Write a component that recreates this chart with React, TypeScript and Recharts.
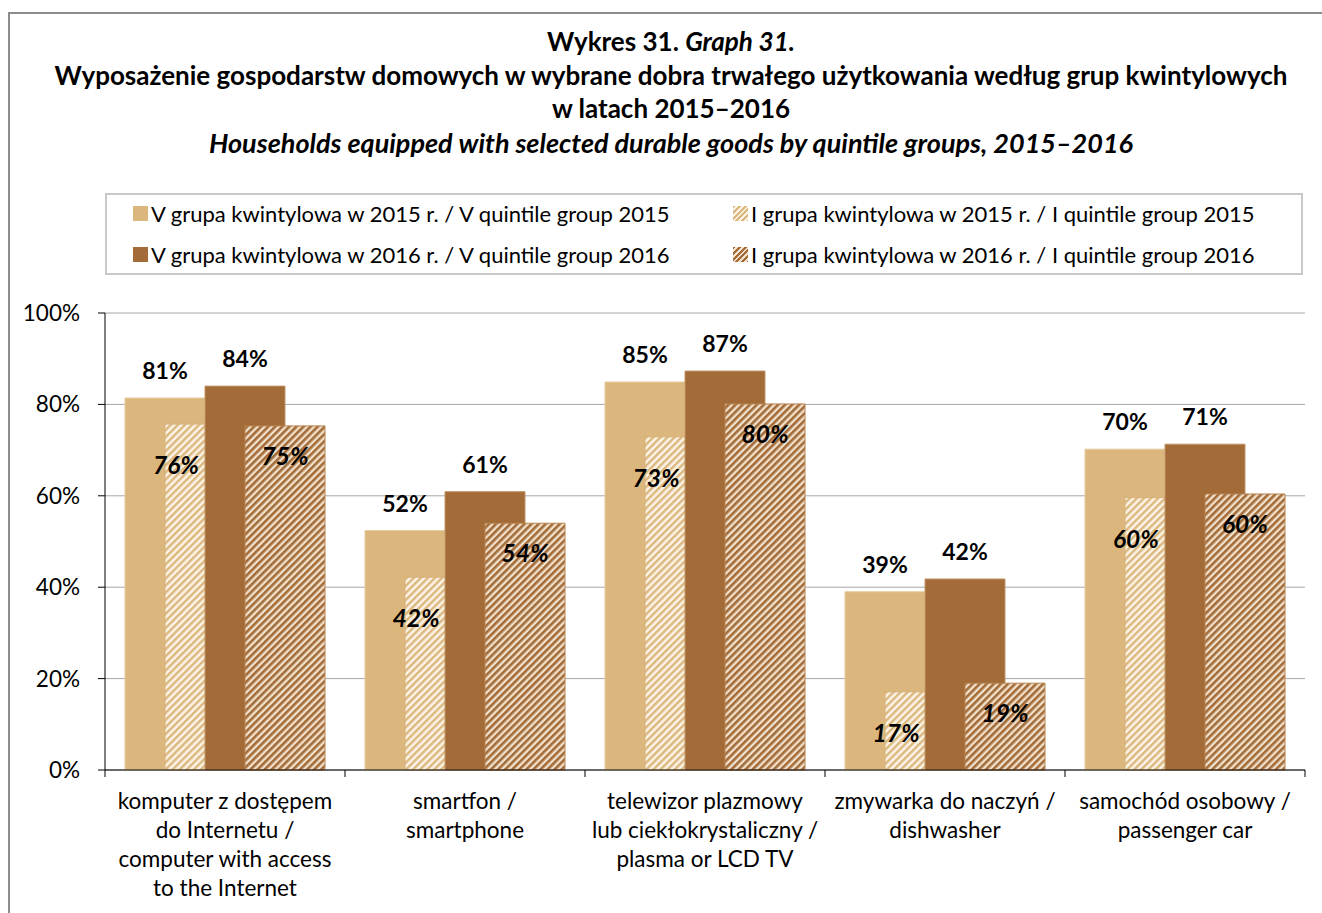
import { BarChart, Bar, XAxis, YAxis, CartesianGrid, Legend, LabelList } from 'recharts';

const categories = ['computer', 'smartphone', 'tv', 'dishwasher', 'car'];
const categoryLabels = [
  ['komputer z dostępem', 'do Internetu /', 'computer with access', 'to the Internet'],
  ['smartfon /', 'smartphone'],
  ['telewizor plazmowy', 'lub ciekłokrystaliczny /', 'plasma or LCD TV'],
  ['zmywarka do naczyń /', 'dishwasher'],
  ['samochód osobowy /', 'passenger car'],
];
const quintileV2015 = [81.4, 52.4, 84.9, 39.0, 70.2];
const quintileI2015 = [75.7, 42.2, 72.9, 17.1, 59.6];
const quintileV2016 = [84.0, 60.9, 87.3, 41.8, 71.3];
const quintileI2016 = [75.3, 54.0, 80.1, 19.0, 60.4];
const yTicks = [0, 20, 40, 60, 80, 100];
const seriesNames = [
  'V grupa kwintylowa w 2015 r. / V quintile group 2015',
  'I grupa kwintylowa w 2015 r. / I quintile group 2015',
  'V grupa kwintylowa w 2016 r. / V quintile group 2016',
  'I grupa kwintylowa w 2016 r. / I quintile group 2016',
];
const titleLines = [
  'Wyposażenie gospodarstw domowych w wybrane dobra trwałego użytkowania według grup kwintylowych',
  'w latach 2015–2016',
];
const subtitle = 'Households equipped with selected durable goods by quintile groups, 2015–2016';

const data = categories.map((c, i) => ({
  category: c,
  v2015: quintileV2015[i],
  i2015: quintileI2015[i],
  v2016: quintileV2016[i],
  i2016: quintileI2016[i],
}));

const FONT = "Lato, 'Open Sans', sans-serif";
const W = 1322;
const H = 913;
const PLOT_LEFT = 105;
const PLOT_RIGHT = 1305;
const PLOT_TOP = 313;
const PLOT_BOTTOM = 770;
const BAND = (PLOT_RIGHT - PLOT_LEFT) / categories.length;

const LIGHT = '#dbb77d';
const DARK = '#a26b37';

// swatches for the legend (css stand-ins for the svg patterns)
const swatches = [
  LIGHT,
  `repeating-linear-gradient(135deg, ${LIGHT} 0 2px, #fbf3e6 2px 4px)`,
  DARK,
  `repeating-linear-gradient(135deg, ${DARK} 0 2px, #f0e0cc 2px 4px)`,
];

function LegendBox() {
  return (
    <div style={{ position: 'relative', width: 1198, height: 82, border: '2px solid #c8c8c8', boxSizing: 'border-box', background: '#fff', fontFamily: FONT, fontSize: 22, color: '#000' }}>
      {seriesNames.map((name, i) => {
        const col = i % 2;
        const row = Math.floor(i / 2);
        return (
          <div key={name} style={{ position: 'absolute', left: col === 0 ? 26 : 626, top: row === 0 ? 3 : 44, height: 30, display: 'flex', alignItems: 'center', whiteSpace: 'nowrap' }}>
            <span style={{ display: 'inline-block', width: 15, height: 15, background: swatches[i], marginRight: 3 }} />
            <span>{name}</span>
          </div>
        );
      })}
    </div>
  );
}

function CategoryTick(props: any) {
  const { x, y, index } = props;
  const lines = categoryLabels[index] ?? [];
  const left = x - BAND / 2;
  return (
    <g>
      <line x1={left} x2={left} y1={y} y2={y + 7} stroke="#000" />
      {index === categories.length - 1 && <line x1={x + BAND / 2} x2={x + BAND / 2} y1={y} y2={y + 7} stroke="#000" />}
      <text textAnchor="middle" fontSize={22.5} fill="#000" fontFamily={FONT}>
        {lines.map((t, i) => (
          <tspan key={i} x={x} y={y + 39 + i * 29}>{t}</tspan>
        ))}
      </text>
    </g>
  );
}

const topLabel = (props: any) => {
  const { x, y, width, value } = props;
  return (
    <text x={x + width / 2} y={y - 19} textAnchor="middle" fontWeight="bold" fontSize={23} fontFamily={FONT} fill="#000">
      {Math.round(value)}%
    </text>
  );
};

const insideLabel = (shift: number | null, dy: number) => (props: any) => {
  const { x, y, width, value } = props;
  const cx = shift === null ? x + width / 2 : x + shift;
  return (
    <text x={cx} y={y + dy} textAnchor="middle" fontWeight="bold" fontStyle="italic" fontSize={24.5} fontFamily={FONT} fill="#000">
      {Math.round(value)}%
    </text>
  );
};

export default function App() {
  return (
    <div style={{ position: 'absolute', left: 0, top: 0, width: W, height: H, overflow: 'hidden', background: '#fff', fontFamily: FONT }}>
      <div style={{ position: 'absolute', left: 8, top: 12, width: 1400, height: 1000, borderLeft: '2px solid #8c8c8c', borderTop: '2px solid #8c8c8c' }} />
      <div style={{ position: 'absolute', left: 0, top: 0, width: W, height: H }}>
        <BarChart width={W} height={H} data={data} margin={{ top: PLOT_TOP, right: W - PLOT_RIGHT, bottom: 0, left: 0 }} barSize={80} barGap={-40}>
          <defs>
            <pattern id="hatchLight" patternUnits="userSpaceOnUse" width="5" height="5" patternTransform="rotate(45)">
              <rect width="5" height="5" fill="#fbf3e6" />
              <rect width="2.4" height="5" fill={LIGHT} />
            </pattern>
            <pattern id="hatchDark" patternUnits="userSpaceOnUse" width="5" height="5" patternTransform="rotate(45)">
              <rect width="5" height="5" fill="#f0e0cc" />
              <rect width="2.6" height="5" fill={DARK} />
            </pattern>
          </defs>
          <CartesianGrid vertical={false} stroke="#a6a6a6" />
          <XAxis dataKey="category" height={H - PLOT_BOTTOM} axisLine={{ stroke: '#000' }} tickLine={false} tickSize={0} tickMargin={0} interval={0} tick={<CategoryTick />} />
          <YAxis width={PLOT_LEFT} domain={[0, 100]} ticks={yTicks} interval={0} tickFormatter={(v: number) => `${v}%`} axisLine={{ stroke: '#000' }} tickLine={{ stroke: '#000' }} tickSize={7} tickMargin={18} tick={{ fontSize: 22.5, fill: '#000', fontFamily: FONT }} />
          <Legend verticalAlign="middle" align="center" layout="horizontal" wrapperStyle={{ top: 193, left: 105, width: 1198 }} content={() => <LegendBox />} />
          <Bar dataKey="v2015" name={seriesNames[0]} fill={LIGHT} stroke="#e6cba0" strokeWidth={1} isAnimationActive={false}>
            <LabelList dataKey="v2015" content={topLabel} />
          </Bar>
          <Bar dataKey="i2015" name={seriesNames[1]} fill="url(#hatchLight)" stroke="#d6b07a" strokeWidth={1} isAnimationActive={false}>
            <LabelList dataKey="i2015" content={insideLabel(11, 50)} />
          </Bar>
          <Bar dataKey="v2016" name={seriesNames[2]} fill={DARK} stroke="#c39566" strokeWidth={1} isAnimationActive={false}>
            <LabelList dataKey="v2016" content={topLabel} />
          </Bar>
          <Bar dataKey="i2016" name={seriesNames[3]} fill="url(#hatchDark)" stroke="#b98450" strokeWidth={1} isAnimationActive={false}>
            <LabelList dataKey="i2016" content={insideLabel(null, 39)} />
          </Bar>
        </BarChart>
      </div>
      <div style={{ position: 'absolute', left: 0, top: 25, width: 1342, textAlign: 'center', fontSize: 26, fontWeight: 'bold', lineHeight: '33.5px', color: '#000' }}>
        <div>Wykres 31. <i>Graph 31.</i></div>
        {titleLines.map((t) => <div key={t}>{t}</div>)}
        <div style={{ fontStyle: 'italic', fontSize: 27 }}>{subtitle}</div>
      </div>
    </div>
  );
}
